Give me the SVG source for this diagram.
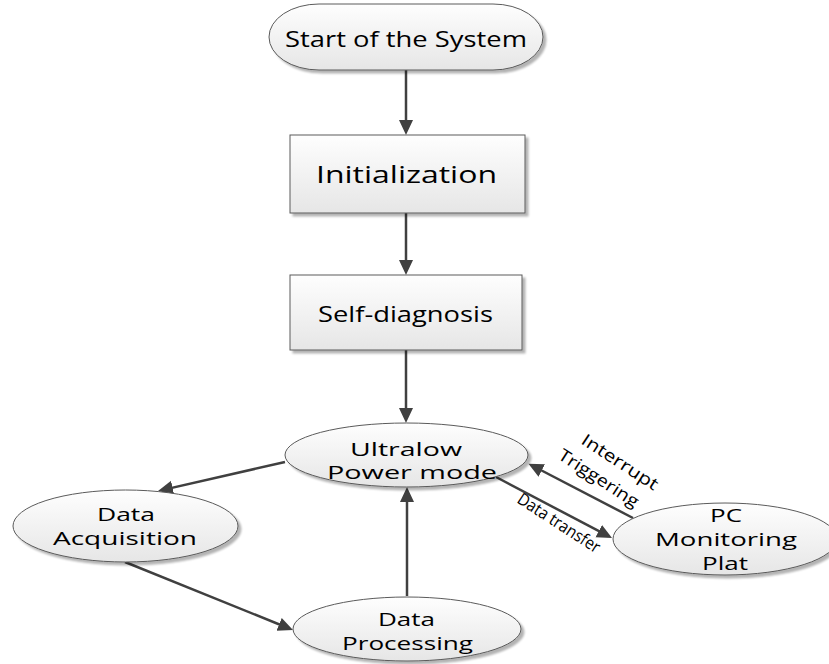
<svg xmlns="http://www.w3.org/2000/svg" width="829" height="664" viewBox="0 0 829 664">
<defs>
<linearGradient id="g" x1="0" y1="0" x2="0" y2="1"><stop offset="0" stop-color="#fefefe"/><stop offset="1" stop-color="#e6e6e6"/></linearGradient>
<filter id="sh" x="-10%" y="-10%" width="130%" height="140%"><feGaussianBlur in="SourceAlpha" stdDeviation="1.2"/><feOffset dx="3" dy="3"/><feComponentTransfer><feFuncA type="linear" slope="0.3"/></feComponentTransfer><feMerge><feMergeNode/><feMergeNode in="SourceGraphic"/></feMerge></filter>
<marker id="ah" markerUnits="userSpaceOnUse" markerWidth="16" markerHeight="16" viewBox="0 0 16 16" refX="11" refY="8" orient="auto"><path d="M0,1 L15,8 L0,15 z" fill="#404040"/></marker>
</defs>
<style>
.n{fill:url(#g);stroke:#5a5a5a;stroke-width:1;filter:url(#sh)}
.t{font-family:"Open Sans","DejaVu Sans",sans-serif;fill:#000;text-anchor:middle}
.c{stroke:#404040;stroke-width:2.5;fill:none;marker-end:url(#ah)}
.l{font-family:"Open Sans","DejaVu Sans",sans-serif;font-size:17px;fill:#000}
</style>
<g id="connectors">
<line class="c" x1="406" y1="70" x2="406" y2="131"/>
<line class="c" x1="406" y1="213" x2="406" y2="271"/>
<line class="c" x1="406" y1="350" x2="406" y2="419"/>
<line class="c" x1="407" y1="596" x2="407" y2="491"/>
<line class="c" x1="285" y1="462" x2="161.9" y2="490.1"/>
<line class="c" x1="125" y1="562" x2="289.3" y2="628.5"/>
<line class="c" x1="496" y1="477" x2="608.5" y2="536.2"/>
<line class="c" x1="633" y1="518" x2="532" y2="465.5"/>
<text class="l" transform="translate(580,443) rotate(33)" textLength="88" lengthAdjust="spacingAndGlyphs">Interrupt</text>
<text class="l" transform="translate(557,458) rotate(33)" textLength="92" lengthAdjust="spacingAndGlyphs">Triggering</text>
<text class="l" transform="translate(516,502) rotate(33)" textLength="95" lengthAdjust="spacingAndGlyphs">Data transfer</text>
</g>
<g id="start">
<rect class="n" x="269" y="4" width="274" height="66" rx="50" ry="33"/>
<text class="t" x="406" y="47" font-size="21" textLength="242" lengthAdjust="spacingAndGlyphs">Start of the System</text>
</g>
<g id="init">
<rect class="n" x="290" y="135" width="235" height="78"/>
<text class="t" x="406.5" y="183" font-size="23.5" textLength="181" lengthAdjust="spacingAndGlyphs">Initialization</text>
</g>
<g id="selfdiag">
<rect class="n" x="290" y="275" width="232" height="75"/>
<text class="t" x="405.5" y="322" font-size="21" textLength="175" lengthAdjust="spacingAndGlyphs">Self-diagnosis</text>
</g>
<g id="ultralow">
<ellipse class="n" cx="406.5" cy="455" rx="121.5" ry="32"/>
<text class="t" font-size="18"><tspan x="406" y="456" textLength="112" lengthAdjust="spacingAndGlyphs">Ultralow</tspan><tspan x="412" y="479" textLength="170" lengthAdjust="spacingAndGlyphs">Power mode</tspan></text>
</g>
<g id="acq">
<ellipse class="n" cx="125.5" cy="526" rx="112.5" ry="36"/>
<text class="t" font-size="19"><tspan x="126" y="521" textLength="58" lengthAdjust="spacingAndGlyphs">Data</tspan><tspan x="125" y="545" textLength="144" lengthAdjust="spacingAndGlyphs">Acquisition</tspan></text>
</g>
<g id="proc">
<ellipse class="n" cx="407" cy="629" rx="114" ry="32"/>
<text class="t" font-size="19"><tspan x="406.5" y="626" textLength="57" lengthAdjust="spacingAndGlyphs">Data</tspan><tspan x="407.5" y="650" textLength="131" lengthAdjust="spacingAndGlyphs">Processing</tspan></text>
</g>
<g id="pc">
<ellipse class="n" cx="725" cy="539" rx="112" ry="36"/>
<text class="t" font-size="19"><tspan x="726" y="522" textLength="32" lengthAdjust="spacingAndGlyphs">PC</tspan><tspan x="726" y="546" textLength="142" lengthAdjust="spacingAndGlyphs">Monitoring</tspan><tspan x="725" y="570" textLength="46" lengthAdjust="spacingAndGlyphs">Plat</tspan></text>
</g>
</svg>
